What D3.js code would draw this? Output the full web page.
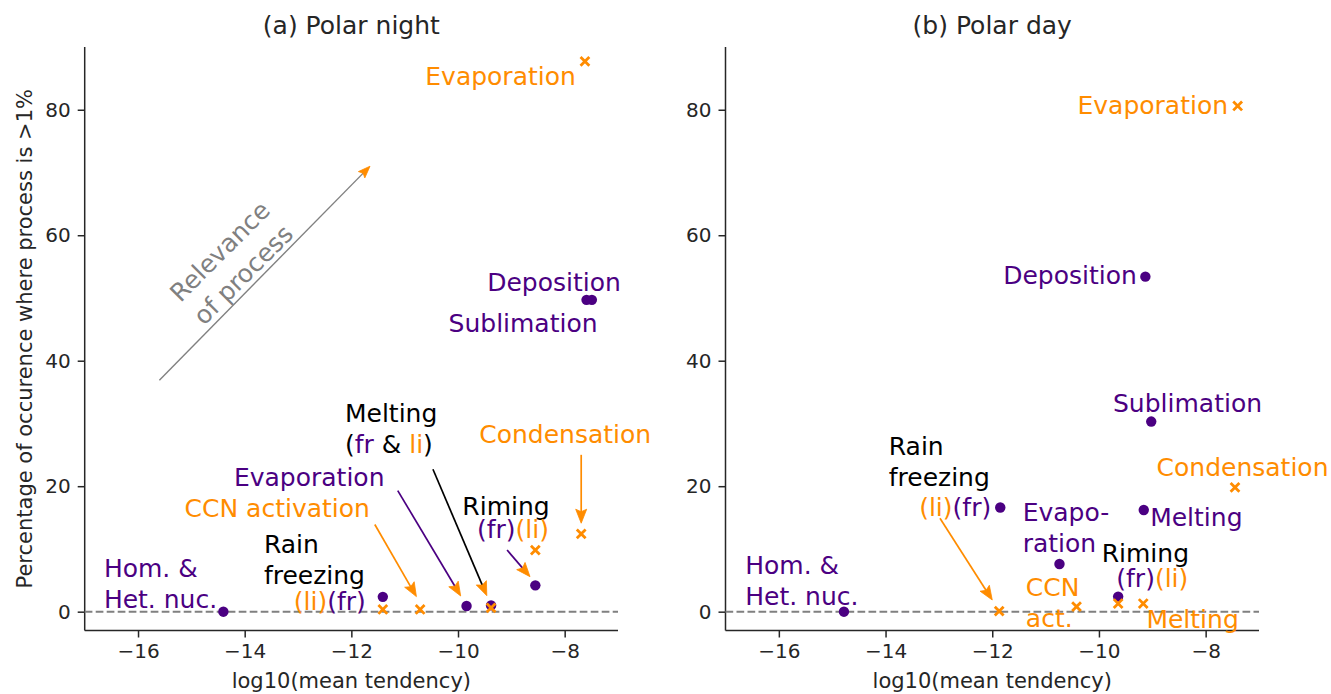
<!DOCTYPE html>
<html>
<head>
<meta charset="utf-8">
<script src="https://cdn.jsdelivr.net/npm/d3@7"></script>
<style>
  body { margin: 0; background: #fff; }
  svg { font-family: "DejaVu Sans", sans-serif; }
</style>
</head>
<body>
<svg id="chart" width="1331" height="694"></svg>
<script>
// ---------------- data ----------------
const xTicks = [-16, -14, -12, -10, -8];
const yTicks = [0, 20, 40, 60, 80];
const xDomain = [-17, -7];
const yDomain = [-3, 90];
const panelTitles = ["(a) Polar night", "(b) Polar day"];
const xLabel = "log10(mean tendency)";
const yLabel = "Percentage of occurence where process is >1%";

// (a) Polar night — liquid processes (crosses)
const nightLiquidNames = ["Evaporation", "Condensation", "Riming (li)", "Melting (li)", "CCN activation", "Rain freezing (li)"];
const nightLiquidX = [-7.62, -7.69, -8.55, -9.38, -10.71, -11.41];
const nightLiquidY = [87.7, 12.4, 9.8, 0.6, 0.35, 0.35];
// (a) Polar night — frozen processes (dots)
const nightFrozenNames = ["Deposition", "Sublimation", "Riming (fr)", "Melting (fr)", "Evaporation (fr)", "Rain freezing (fr)", "Hom. & Het. nuc."];
const nightFrozenX = [-7.49, -7.59, -8.55, -9.38, -9.84, -11.41, -14.40];
const nightFrozenY = [49.7, 49.7, 4.2, 1.0, 0.9, 2.36, 0.0];

// (b) Polar day — liquid processes (crosses)
const dayLiquidNames = ["Evaporation", "Condensation", "Melting (li)", "Riming (li)", "CCN act.", "Rain freezing (li)"];
const dayLiquidX = [-7.40, -7.45, -9.17, -9.64, -10.42, -11.87];
const dayLiquidY = [80.6, 19.8, 1.3, 1.3, 0.8, 0.1];
// (b) Polar day — frozen processes (dots)
const dayFrozenNames = ["Deposition", "Sublimation", "Melting (fr)", "Riming (fr)", "Evaporation", "Rain freezing (fr)", "Hom. & Het. nuc."];
const dayFrozenX = [-9.13, -9.02, -9.16, -9.64, -10.74, -11.85, -14.78];
const dayFrozenY = [53.4, 30.3, 16.2, 2.4, 7.6, 16.6, 0.0];

// ---------------- styles ----------------
const PURPLE = "#4B0082", ORANGE = "#FF8C00", BLACK = "#000000", GRAY = "#808080", INK = "#262626";

// annotation texts (anchor positions in data units)
const nightLabels = [
  {x: -7.79, y: 85.4, anchor: "end", lines: [[["Evaporation", ORANGE]]]},
  {x: -8.20, y: 52.6, anchor: "middle", lines: [[["Deposition", PURPLE]]]},
  {x: -8.78, y: 46.0, anchor: "middle", lines: [[["Sublimation", PURPLE]]]},
  {x: -12.12, y: 31.7, anchor: "start", lines: [[["Melting", BLACK]], [["(", BLACK], ["fr", PURPLE], [" & ", BLACK], ["li", ORANGE], [")", BLACK]]]},
  {x: -7.99, y: 28.3, anchor: "middle", lines: [[["Condensation", ORANGE]]]},
  {x: -12.79, y: 21.5, anchor: "middle", lines: [[["Evaporation", PURPLE]]]},
  {x: -13.39, y: 16.5, anchor: "middle", lines: [[["CCN activation", ORANGE]]]},
  {x: -9.10, y: 16.8, anchor: "middle", lines: [[["Riming", BLACK]]]},
  {x: -8.97, y: 13.2, anchor: "middle", lines: [[["(fr)", PURPLE], ["(li)", ORANGE]]]},
  {x: -13.64, y: 10.8, anchor: "start", lines: [[["Rain", BLACK]], [["freezing", BLACK]]]},
  {x: -11.73, y: 1.71, anchor: "end", lines: [[["(li)", ORANGE], ["(fr)", PURPLE]]]},
  {x: -16.64, y: 6.97, anchor: "start", lines: [[["Hom. &", PURPLE]], [["Het. nuc.", PURPLE]]]}
];
const nightArrows = [
  {from: [-7.69, 25.0], to: [-7.69, 14.1], color: ORANGE},
  {from: [-11.56, 13.9], to: [-10.78, 2.4], color: ORANGE},
  {from: [-11.13, 19.3], to: [-9.95, 2.5], color: PURPLE},
  {from: [-10.47, 22.7], to: [-9.46, 2.55], color: BLACK},
  {from: [-9.08, 9.83], to: [-8.65, 5.58], color: PURPLE}
];
const relevanceArrow = {from: [-15.60, 36.9], to: [-11.65, 71.0], color: GRAY};
const relevanceText = {x: -14.25, y: 55.6, lines: ["Relevance", "of process"]};

const dayLabels = [
  {x: -7.58, y: 80.8, anchor: "end", lines: [[["Evaporation", ORANGE]]]},
  {x: -9.29, y: 53.7, anchor: "end", lines: [[["Deposition", PURPLE]]]},
  {x: -8.34, y: 33.3, anchor: "middle", lines: [[["Sublimation", PURPLE]]]},
  {x: -8.92, y: 23.0, anchor: "start", lines: [[["Condensation", ORANGE]]]},
  {x: -9.04, y: 15.05, anchor: "start", lines: [[["Melting", PURPLE]]]},
  {x: -13.94, y: 26.4, anchor: "start", lines: [[["Rain", BLACK]], [["freezing", BLACK]]]},
  {x: -12.02, y: 16.7, anchor: "end", lines: [[["(li)", ORANGE], ["(fr)", PURPLE]]]},
  {x: -11.43, y: 15.9, anchor: "start", lines: [[["Evapo-", PURPLE]], [["ration", PURPLE]]]},
  {x: -9.13, y: 9.36, anchor: "middle", lines: [[["Riming", BLACK]]]},
  {x: -9.00, y: 5.37, anchor: "middle", lines: [[["(fr)", PURPLE], ["(li)", ORANGE]]]},
  {x: -11.37, y: 3.95, anchor: "start", lines: [[["CCN", ORANGE]], [["act.", ORANGE]]]},
  {x: -9.11, y: -1.16, anchor: "start", lines: [[["Melting", ORANGE]]]},
  {x: -16.63, y: 7.44, anchor: "start", lines: [[["Hom. &", PURPLE]], [["Het. nuc.", PURPLE]]]}
];
const dayArrows = [
  {from: [-12.98, 14.9], to: [-12.0, 1.86], color: ORANGE}
];

// ---------------- drawing ----------------
const svg = d3.select("#chart");
const yTopPx = 47, yBottomPx = 630.5;
const panels = [
  {x0: 84.7, x1: 618, title: panelTitles[0], lx: nightLiquidX, ly: nightLiquidY, fx: nightFrozenX, fy: nightFrozenY,
   labels: nightLabels, arrows: nightArrows, ylabel: true, relevance: true},
  {x0: 725.5, x1: 1259, title: panelTitles[1], lx: dayLiquidX, ly: dayLiquidY, fx: dayFrozenX, fy: dayFrozenY,
   labels: dayLabels, arrows: dayArrows, ylabel: false, relevance: false}
];

function drawArrow(g, A, xs, ys, headLen, headW, lw) {
  const x1 = xs(A.from[0]), y1 = ys(A.from[1]), x2 = xs(A.to[0]), y2 = ys(A.to[1]);
  const dx = x2 - x1, dy = y2 - y1, L = Math.hypot(dx, dy), ux = dx / L, uy = dy / L;
  const bx = x2 - ux * headLen, by = y2 - uy * headLen;
  g.append("line").attr("x1", x1).attr("y1", y1).attr("x2", bx + ux * 3).attr("y2", by + uy * 3)
    .attr("stroke", A.color).attr("stroke-width", lw);
  const nx = x2 - ux * headLen * 0.82, ny = y2 - uy * headLen * 0.82;
  const pts = [[x2, y2], [bx - uy * headW, by + ux * headW], [nx, ny], [bx + uy * headW, by - ux * headW]];
  g.append("path").attr("d", "M" + pts.map(p => p.join(",")).join("L") + "Z")
    .attr("fill", ORANGE).attr("stroke", ORANGE).attr("stroke-width", 0.8).attr("stroke-linejoin", "miter");
}

panels.forEach(p => {
  const xs = d3.scaleLinear().domain(xDomain).range([p.x0, p.x1]);
  const ys = d3.scaleLinear().domain(yDomain).range([yBottomPx, yTopPx]);
  const g = svg.append("g");

  // axes
  const xAxis = d3.axisBottom(xs).tickValues(xTicks).tickSize(7).tickPadding(6)
    .tickFormat(d => d3.format("d")(d).replace("-", "\u2212"));
  const gx = g.append("g").attr("transform", `translate(0,${yBottomPx})`).call(xAxis);
  const yAxis = d3.axisLeft(ys).tickValues(yTicks).tickSize(7).tickPadding(7).tickFormat(d3.format("d"));
  const gy = g.append("g").attr("transform", `translate(${p.x0},0)`).call(yAxis);
  [gx, gy].forEach(a => {
    a.select(".domain").attr("stroke", INK).attr("stroke-width", 1.5);
    a.selectAll(".tick line").attr("stroke", INK).attr("stroke-width", 1.5);
    a.selectAll(".tick text").attr("fill", INK).attr("font-size", 20).attr("font-family", "DejaVu Sans");
  });
  gx.select(".domain").attr("d", `M${p.x0},0H${p.x1}`);
  gy.select(".domain").attr("d", `M0,${yTopPx}V${yBottomPx}`);

  // zero line
  g.append("line").attr("x1", p.x0).attr("x2", p.x1).attr("y1", ys(0)).attr("y2", ys(0))
    .attr("stroke", GRAY).attr("stroke-width", 2).attr("stroke-dasharray", "7.7,3.3");

  // title & axis labels
  g.append("text").attr("x", (p.x0 + p.x1) / 2).attr("y", 34).attr("text-anchor", "middle")
    .attr("font-size", 25).attr("fill", INK).text(p.title);
  g.append("text").attr("x", (p.x0 + p.x1) / 2).attr("y", 688).attr("text-anchor", "middle")
    .attr("font-size", 21).attr("fill", INK).text(xLabel);
  if (p.ylabel) {
    g.append("text").attr("transform", `translate(32,${(yTopPx + yBottomPx) / 2}) rotate(-90)`)
      .attr("text-anchor", "middle").attr("font-size", 21).attr("fill", INK).text(yLabel);
  }

  // markers: dots then crosses
  g.selectAll("circle.fr").data(d3.zip(p.fx, p.fy)).join("circle")
    .attr("cx", d => xs(d[0])).attr("cy", d => ys(d[1])).attr("r", 5.2).attr("fill", PURPLE);
  const cr = 4.4;
  g.selectAll("path.li").data(d3.zip(p.lx, p.ly)).join("path")
    .attr("d", d => {
      const cx = xs(d[0]), cy = ys(d[1]);
      return `M${cx - cr},${cy - cr}L${cx + cr},${cy + cr}M${cx - cr},${cy + cr}L${cx + cr},${cy - cr}`;
    })
    .attr("stroke", ORANGE).attr("stroke-width", 2.8).attr("fill", "none");

  // labels
  p.labels.forEach(L => {
    L.lines.forEach((segs, i) => {
      const t = g.append("text").attr("x", xs(L.x)).attr("y", ys(L.y) + i * 31).attr("dy", "0.36em")
        .attr("text-anchor", L.anchor).attr("font-size", 25).style("white-space", "pre");
      segs.forEach(([s, c]) => t.append("tspan").attr("fill", c).text(s));
    });
  });

  // arrows
  p.arrows.forEach(A => drawArrow(g, A, xs, ys, 14, 5.5, 1.7));

  if (p.relevance) {
    drawArrow(g, relevanceArrow, xs, ys, 12, 4.5, 1.4);
    const cx = xs(relevanceText.x), cy = ys(relevanceText.y);
    const rt = g.append("g").attr("transform", `translate(${cx},${cy}) rotate(-45)`);
    relevanceText.lines.forEach((s, i) => {
      rt.append("text").attr("x", 0).attr("y", (i - 0.5) * 33).attr("dy", "0.36em")
        .attr("text-anchor", "middle").attr("font-size", 25).attr("fill", GRAY).text(s);
    });
  }
});
</script>
</body>
</html>
